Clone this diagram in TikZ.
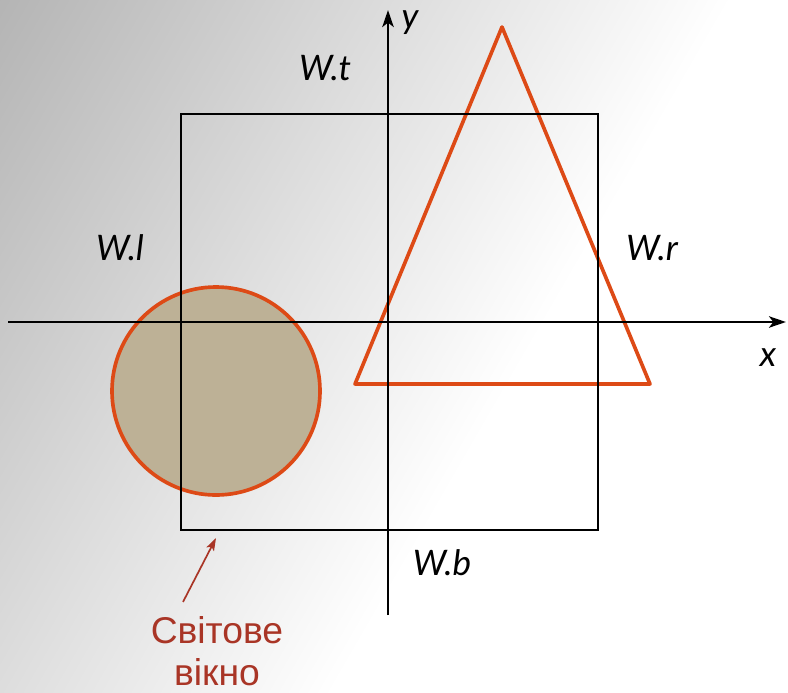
\documentclass[tikz,border=0pt]{standalone}
\usepackage{fontspec}
\setmainfont{Liberation Sans}
\newfontfamily\lblfont{Lato}
\usetikzlibrary{arrows.meta, positioning}
\definecolor{edge}{HTML}{DD4A16}
\definecolor{sand}{HTML}{BDB196}
\definecolor{note}{HTML}{A93526}
\pgfdeclarehorizontalshading{bgshade}{100bp}{color(0bp)=(black!40); color(58bp)=(white); color(100bp)=(white)}

\begin{document}
\begin{tikzpicture}[x=0.025cm, y=-0.025cm,
    axis/.style={draw, line width=2.1pt, -{Stealth[length=12pt, width=8pt, inset=3pt]}},
    lbl/.style={font=\lblfont\itshape\fontsize{25}{30}\selectfont, inner sep=0pt},
    figline/.style={draw=edge, line width=2.6pt, line join=round},
    pointer/.style={draw=note, line width=1.2pt, -{Stealth[length=9pt, width=6pt, inset=2pt]}}
]
\shade[shading=bgshade, shading angle=-30] (0,0) rectangle (788,692);
\useasboundingbox (0,0) rectangle (788,692);

% objects
\draw[figline, fill=sand] (216,391) circle (104);
\draw[figline] (502,27) -- (650,384) -- (355,384) -- cycle;

% world window
\draw[line width=1.8pt] (181,114) rectangle (598,530);

% axes
\coordinate (ox) at (8,322);
\coordinate (xe) at (786,322);
\coordinate (oy) at (388,615);
\coordinate (ye) at (388,10);
\draw[axis] (ox) -- (xe);
\draw[axis] (oy) -- (ye);
\node[lbl] (xl) at (768,358) {x};
\node[lbl] (yl) at (410,23) {y};

% window bounds
\node[lbl] (wt) at (325,68) {W.t};
\node[lbl] (wl) at (120,248) {W.l};
\node[lbl] (wr) at (652,248) {W.r};
\node[lbl] (wb) at (442,563) {W.b};

\node[text=note, align=center, font=\fontsize{26.5}{30}\selectfont, inner sep=0pt] (wnd) at (217,651) {Світове\\вікно};
\coordinate (tip) at (216,538);
\draw[pointer] ([shift={(-34,-14)}]wnd.north) -- (tip);
\end{tikzpicture}
\end{document}
